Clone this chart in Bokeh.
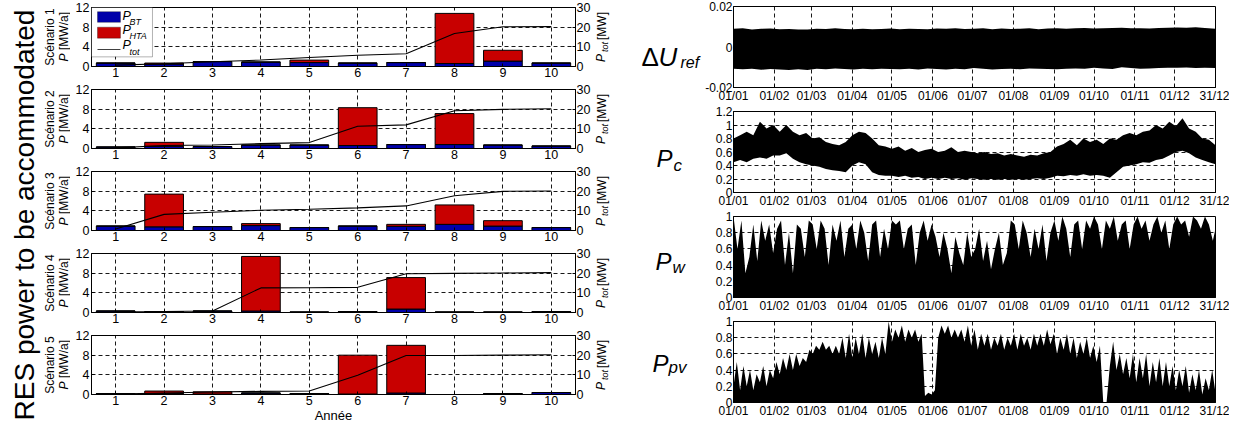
import math
from bokeh.plotting import figure
from bokeh.models import ColumnDataSource, Range1d, LinearAxis, FixedTicker, Label, BoxAnnotation
from bokeh.layouts import row, column
from bokeh.embed import file_html
from bokeh.resources import INLINE

FONT = "Liberation Sans"
BLUE = "#0000AA"
RED = "#C80000"

# ---------------- left: yearly bars ----------------
years = [1, 2, 3, 4, 5, 6, 7, 8, 9, 10]
year_ticks = [1, 2, 3, 4, 5, 6, 7, 8, 9, 10]

s1_bt = [0.7, 0.5, 1.0, 0.9, 0.8, 0.7, 0.8, 0.6, 1.1, 0.7]
s1_hta = [0.0, 0.2, 0.0, 0.0, 0.5, 0.0, 0.0, 10.2, 2.2, 0.0]
s1_tot = [0.7, 1.4, 2.4, 3.3, 4.6, 5.7, 6.5, 16.8, 20.2, 20.3]

s2_bt = [0.3, 0.45, 0.4, 0.7, 0.7, 0.6, 0.8, 0.8, 0.7, 0.5]
s2_hta = [0.0, 0.8, 0.0, 0.0, 0.0, 7.7, 0.0, 6.3, 0.0, 0.0]
s2_tot = [0.3, 1.5, 1.8, 2.5, 3.0, 11.3, 12.0, 19.2, 19.9, 20.2]

s3_bt = [0.9, 0.75, 0.8, 1.0, 0.6, 0.9, 0.85, 1.25, 0.9, 0.6]
s3_hta = [0.0, 6.65, 0.0, 0.4, 0.0, 0.0, 0.4, 3.95, 1.1, 0.0]
s3_tot = [0.8, 8.2, 9.3, 10.3, 10.8, 11.5, 12.5, 17.7, 19.9, 20.1]

s4_bt = [0.3, 0.2, 0.3, 0.3, 0.1, 0.2, 0.7, 0.1, 0.1, 0.2]
s4_hta = [0.0, 0.0, 0.0, 11.1, 0.0, 0.0, 6.4, 0.0, 0.0, 0.0]
s4_tot = [0.3, 0.5, 0.8, 12.5, 12.6, 12.8, 19.7, 19.9, 20.1, 20.3]

s5_bt = [0.2, 0.2, 0.1, 0.3, 0.2, 0.1, 0.3, 0.0, 0.2, 0.4]
s5_hta = [0.0, 0.5, 0.45, 0.0, 0.0, 7.9, 9.7, 0.0, 0.0, 0.0]
s5_tot = [0.2, 0.8, 1.3, 1.6, 1.8, 9.8, 19.8, 19.8, 20.0, 20.2]

scen_names = ["Scénario 1", "Scénario 2", "Scénario 3", "Scénario 4", "Scénario 5"]
scen_bt = [s1_bt, s2_bt, s3_bt, s4_bt, s5_bt]
scen_hta = [s1_hta, s2_hta, s3_hta, s4_hta, s5_hta]
scen_tot = [s1_tot, s2_tot, s3_tot, s4_tot, s5_tot]

p_ticks = [0, 4, 8, 12]
tot_ticks = [0, 10, 20, 30]

# ---------------- right: yearly time series ----------------
month_days = [0, 31, 59, 90, 120, 151, 181, 212, 243, 273, 304, 334, 365]
month_labels = ["01/01", "01/02", "01/03", "01/04", "01/05", "01/06", "01/07",
                "01/08", "01/09", "01/10", "01/11", "01/12", "31/12"]

du_days = [0, 7, 14, 21, 28, 35, 42, 49, 56, 63, 70, 77, 84, 91, 98, 105, 112, 119, 126,
           133, 140, 147, 154, 161, 168, 175, 182, 189, 196, 203, 210, 217, 224, 231, 238,
           245, 252, 259, 266, 273, 280, 287, 294, 301, 308, 315, 322, 329, 336, 343, 350,
           357, 365]
du_hi = [0.0090, 0.0092, 0.0087, 0.0090, 0.0091, 0.0088, 0.0089, 0.0086, 0.0087, 0.0090,
         0.0089, 0.0093, 0.0089, 0.0088, 0.0090, 0.0088, 0.0089, 0.0091, 0.0088, 0.0090,
         0.0089, 0.0088, 0.0091, 0.0090, 0.0092, 0.0089, 0.0090, 0.0092, 0.0088, 0.0091,
         0.0089, 0.0090, 0.0093, 0.0088, 0.0091, 0.0092, 0.0090, 0.0093, 0.0094, 0.0091,
         0.0092, 0.0094, 0.0095, 0.0093, 0.0092, 0.0091, 0.0094, 0.0095, 0.0096, 0.0095,
         0.0097, 0.0094, 0.0090]
du_lo = [-0.0108, -0.0110, -0.0107, -0.0112, -0.0109, -0.0111, -0.0113, -0.0110, -0.0114,
         -0.0108, -0.0110, -0.0106, -0.0109, -0.0111, -0.0108, -0.0110, -0.0107, -0.0109,
         -0.0110, -0.0108, -0.0111, -0.0106, -0.0109, -0.0111, -0.0108, -0.0110, -0.0104,
         -0.0108, -0.0111, -0.0109, -0.0107, -0.0110, -0.0106, -0.0108, -0.0109, -0.0110,
         -0.0107, -0.0106, -0.0108, -0.0102, -0.0106, -0.0109, -0.0100, -0.0104, -0.0108,
         -0.0106, -0.0104, -0.0102, -0.0103, -0.0101, -0.0104, -0.0102, -0.0104]

day5 = [0, 5, 10, 15, 20, 25, 30, 35, 40, 45, 50, 55, 60, 65, 70, 75, 80, 85, 90, 95,
        100, 105, 110, 115, 120, 125, 130, 135, 140, 145, 150, 155, 160, 165, 170, 175,
        180, 185, 190, 195, 200, 205, 210, 215, 220, 225, 230, 235, 240, 245, 250, 255,
        260, 265, 270, 275, 280, 285, 290, 295, 300, 305, 310, 315, 320, 325, 330, 335,
        340, 345, 350, 355, 360, 365]

pc_hi = [0.80, 0.85, 0.90, 0.85, 1.05, 0.95, 1.00, 0.90, 1.00, 0.90, 0.85, 0.88, 0.80, 0.82,
         0.75, 0.72, 0.70, 0.75, 0.85, 0.90, 0.88, 0.80, 0.70, 0.68, 0.65, 0.68, 0.62, 0.66,
         0.60, 0.63, 0.65, 0.60, 0.62, 0.67, 0.60, 0.62, 0.60, 0.58, 0.60, 0.57, 0.58, 0.55,
         0.57, 0.55, 0.53, 0.56, 0.55, 0.58, 0.60, 0.68, 0.72, 0.78, 0.70, 0.80, 0.75, 0.78,
         0.72, 0.80, 0.78, 0.85, 0.88, 0.85, 0.90, 0.92, 1.00, 0.95, 1.05, 0.98, 1.10, 0.95,
         0.90, 0.80, 0.78, 0.70]
pc_lo = [0.45, 0.48, 0.45, 0.50, 0.52, 0.50, 0.55, 0.55, 0.58, 0.50, 0.45, 0.42, 0.40, 0.38,
         0.35, 0.33, 0.32, 0.30, 0.40, 0.45, 0.42, 0.30, 0.26, 0.25, 0.25, 0.23, 0.25, 0.22,
         0.23, 0.20, 0.22, 0.20, 0.22, 0.20, 0.21, 0.19, 0.21, 0.20, 0.19, 0.20, 0.19, 0.20,
         0.19, 0.20, 0.19, 0.20, 0.21, 0.20, 0.22, 0.25, 0.24, 0.26, 0.25, 0.27, 0.25, 0.26,
         0.25, 0.22, 0.30, 0.38, 0.40, 0.42, 0.45, 0.44, 0.48, 0.50, 0.55, 0.60, 0.62, 0.58,
         0.52, 0.48, 0.45, 0.42]

pw_days = list(range(0, 364, 3)) + [365]
pw_hi = [1.00, 0.60, 0.95, 0.30, 0.50, 0.90, 0.45, 0.95, 0.70, 0.90, 0.55,
         0.85, 0.95, 0.40, 0.80, 0.30, 0.90, 0.85, 0.50, 0.95,
         0.90, 0.60, 0.95, 0.85, 0.40, 0.90, 0.70, 0.95, 0.50, 0.85, 0.90,
         0.60, 0.95, 0.80, 0.45, 0.90, 0.95, 0.50, 0.85, 0.60, 0.95,
         0.90, 0.95, 0.60, 0.85, 0.90, 0.40, 0.80, 0.95, 0.70, 0.90,
         0.75, 0.50, 0.80, 0.60, 0.30, 0.75, 0.55, 0.40, 0.80, 0.50,
         0.60, 0.85, 0.45, 0.70, 0.35, 0.60, 0.80, 0.40, 0.55, 0.95,
         0.90, 0.60, 0.95, 0.80, 0.50, 0.85, 0.60, 0.90, 0.45, 0.80,
         0.95, 0.70, 1.00, 0.85, 0.50, 0.90, 0.95, 0.60, 0.95, 0.85,
         1.00, 0.90, 0.60, 0.95, 0.85, 1.00, 0.70, 0.90, 0.95, 0.60, 0.90,
         1.00, 0.85, 0.95, 0.70, 0.90, 1.00, 0.80, 0.95, 0.60, 0.90,
         1.00, 0.90, 0.95, 0.75, 1.00, 0.95, 0.85, 1.00, 0.90, 0.70,
         0.85]

# P_pv: level of the dense (night-to-day) fill and the tip of the daily peaks, every 5 days
ppv_dense = [0.20, 0.15, 0.20, 0.15, 0.25, 0.20, 0.30,
             0.35, 0.40, 0.40, 0.45, 0.50,
             0.60, 0.65, 0.65, 0.60, 0.60, 0.55,
             0.55, 0.60, 0.55, 0.60, 0.55, 0.60,
             0.75, 0.80, 0.75, 0.80, 0.75, 0.08, 0.10,
             0.80, 0.85, 0.80, 0.80, 0.75, 0.70,
             0.65, 0.70, 0.65, 0.70, 0.65, 0.70,
             0.65, 0.70, 0.65, 0.70, 0.70, 0.72,
             0.60, 0.65, 0.60, 0.55, 0.60, 0.55,
             0.50, 0.00, 0.45, 0.40, 0.35, 0.30,
             0.25, 0.30, 0.20, 0.25, 0.20, 0.20,
             0.15, 0.20, 0.12, 0.15, 0.10, 0.15, 0.12]
ppv_peak = [0.50, 0.45, 0.40, 0.35, 0.45, 0.40, 0.50,
            0.55, 0.60, 0.60, 0.55, 0.65,
            0.70, 0.75, 0.70, 0.70, 0.80, 0.85,
            0.80, 0.85, 0.80, 0.75, 0.80, 1.00,
            0.90, 0.95, 0.90, 0.90, 0.85, 0.12, 0.15,
            0.95, 0.95, 0.90, 0.90, 0.95, 0.90,
            0.85, 0.85, 0.80, 0.85, 0.80, 0.85,
            0.85, 0.80, 0.85, 0.85, 0.90, 0.85,
            0.80, 0.85, 0.80, 0.75, 0.80, 0.70,
            0.70, 0.00, 0.75, 0.60, 0.55, 0.60,
            0.55, 0.60, 0.50, 0.55, 0.50, 0.45,
            0.40, 0.45, 0.35, 0.40, 0.30, 0.40, 0.35]


def base_style(p):
    p.background_fill_color = "white"
    p.border_fill_color = "white"
    p.outline_line_color = "black"
    p.outline_line_width = 1
    p.outline_line_alpha = 1
    for ax in p.axis:
        ax.axis_line_color = "black"
        ax.major_tick_line_color = "black"
        ax.major_tick_in = 3
        ax.major_tick_out = 0
        ax.minor_tick_line_color = None
        ax.major_label_text_font = FONT
        ax.major_label_text_color = "black"
    for g in p.grid:
        g.grid_line_color = "black"
        g.grid_line_dash = "4 3"
        g.grid_line_width = 1
        g.grid_line_alpha = 0.9


def lab(p, text, x, y, size, angle=0.0, align="center", base="middle", style="normal"):
    p.add_layout(Label(x=x, y=y, text=text, angle=angle,
                       text_align=align, text_baseline=base, text_font=FONT,
                       text_font_size=size, text_font_style=style, text_color="black"))


def label_fig(x0, x1):
    # a blank canvas whose data coordinates are the page's pixel coordinates
    f = figure(width=x1 - x0, height=425, x_range=Range1d(x0, x1), y_range=Range1d(433, 8),
               output_backend="svg", toolbar_location=None,
               min_border_left=0, min_border_right=0, min_border_top=0, min_border_bottom=0)
    f.axis.visible = False
    f.grid.visible = False
    f.outline_line_color = None
    f.background_fill_color = "white"
    f.border_fill_color = "white"
    return f


ROT = math.pi / 2
BAR_TOP, BAR_FRAME, BAR_STEP = 7, 59, 82

# ---- left label strip (big title + scenario labels) ----
labL = label_fig(8, 78)
lab(labL, "RES power to be accommodated", 31.5, 222.5, "28px", angle=ROT,
    align="center", base="alphabetic")
for k in range(5):
    c = 8 + BAR_TOP + BAR_FRAME / 2 + BAR_STEP * k
    lab(labL, scen_names[k], 57, c, "12px", angle=ROT)
    lab(labL, "P", 71, c + 24.5, "12px", angle=ROT, align="left", style="italic")
    lab(labL, "[MW/a]", 71, c + 13.0, "12px", angle=ROT, align="left")

# ---- bar panels ----
bar_figs = []
for i in range(5):
    last = (i == 4)
    p = figure(width=523, height=97 if last else BAR_STEP, x_range=Range1d(0.5, 10.5),
               y_range=Range1d(0, 12), output_backend="svg", toolbar_location=None,
               min_border_left=21, min_border_right=17, min_border_top=BAR_TOP,
               min_border_bottom=31 if last else 16)
    p.extra_y_ranges = {"tot": Range1d(0, 30)}
    src = ColumnDataSource(dict(year=years, bt=scen_bt[i], hta=scen_hta[i], tot=scen_tot[i]))
    p.vbar_stack(["bt", "hta"], x="year", width=0.8, fill_color=[BLUE, RED],
                 line_color="black", line_width=1, source=src)
    p.line("year", "tot", source=src, y_range_name="tot", line_color="black", line_width=1.1)
    rax = LinearAxis(y_range_name="tot", ticker=FixedTicker(ticks=tot_ticks))
    p.add_layout(rax, "right")
    p.xaxis.ticker = FixedTicker(ticks=year_ticks)
    p.left[0].ticker = FixedTicker(ticks=p_ticks)
    p.xgrid.ticker = FixedTicker(ticks=year_ticks)
    p.ygrid.ticker = FixedTicker(ticks=[4, 8])
    base_style(p)
    p.axis.major_label_text_font_size = "12.5px"
    p.xaxis.major_label_standoff = 1
    p.left[0].major_label_standoff = 2
    rax.major_label_standoff = 1
    if i == 0:
        # legend
        p.add_layout(BoxAnnotation(left=0.5, right=1.76, bottom=1.96, top=12,
                                   fill_color="white", fill_alpha=1,
                                   line_color="black", line_width=1))
        p.add_layout(BoxAnnotation(left=0.624, right=1.098, bottom=8.99, top=11.15,
                                   fill_color=BLUE, fill_alpha=1,
                                   line_color="black", line_width=1))
        p.add_layout(BoxAnnotation(left=0.624, right=1.098, bottom=5.76, top=8.0,
                                   fill_color=RED, fill_alpha=1,
                                   line_color="black", line_width=1))
        p.add_layout(BoxAnnotation(left=0.624, right=1.098, bottom=3.39, top=3.57,
                                   fill_color="black", fill_alpha=1, line_color=None))
        for ty, sy, sub in [(10.33, 9.15, "BT"), (7.37, 6.19, "HTA"), (4.32, 2.94, "tot")]:
            lab(p, "P", 1.139, ty, "12.5px", align="left", style="italic")
            lab(p, sub, 1.283, sy, "9px", align="left", style="italic")
    if last:
        p.xaxis.axis_label = "Année"
        p.xaxis.axis_label_standoff = 0
        p.xaxis.axis_label_text_font = FONT
        p.xaxis.axis_label_text_font_size = "13px"
        p.xaxis.axis_label_text_font_style = "normal"
        p.xaxis.axis_label_text_color = "black"
    bar_figs.append(p)

left_col = column(*bar_figs, spacing=0)

# ---- middle label strip (P_tot axis titles + time-series names) ----
labM = label_fig(601, 710)
for k in range(5):
    c = 8 + BAR_TOP + BAR_FRAME / 2 + BAR_STEP * k
    lab(labM, "P", 608, c + 21, "12px", angle=ROT, style="italic")
    lab(labM, "tot", 612.5, c + 10, "9px", angle=ROT, style="italic")
    lab(labM, "[MW]", 609, c - 11, "12px", angle=ROT)
lab(labM, "\u0394", 649, 64, "26px", align="left", base="alphabetic")
lab(labM, "U", 666, 64, "26px", align="left", base="alphabetic", style="italic")
lab(labM, "ref", 688, 70, "16px", align="left", base="alphabetic", style="italic")
lab(labM, "P", 664, 166, "24px", align="left", base="alphabetic", style="italic")
lab(labM, "c", 681, 173, "17px", align="left", base="alphabetic", style="italic")
lab(labM, "P", 663, 269, "24px", align="left", base="alphabetic", style="italic")
lab(labM, "w", 680, 275, "17px", align="left", base="alphabetic", style="italic")
lab(labM, "P", 660, 371, "24px", align="left", base="alphabetic", style="italic")
lab(labM, "pv", 676, 375, "17px", align="left", base="alphabetic", style="italic")


# ---- time series panels ----
def ts_fig(lo, hi, yticks, ylabels, grid_y):
    p = figure(width=527, height=105, x_range=Range1d(0, 365), y_range=Range1d(lo, hi),
               output_backend="svg", toolbar_location=None,
               min_border_left=29, min_border_right=14, min_border_top=6,
               min_border_bottom=18)
    p.xaxis.ticker = FixedTicker(ticks=month_days)
    p.xaxis.major_label_overrides = {d: s for d, s in zip(month_days, month_labels)}
    p.yaxis.ticker = FixedTicker(ticks=yticks)
    p.yaxis.major_label_overrides = {t: s for t, s in zip(yticks, ylabels)}
    p.xgrid.ticker = FixedTicker(ticks=month_days[1:-1])
    p.ygrid.ticker = FixedTicker(ticks=grid_y)
    base_style(p)
    p.axis.major_label_text_font_size = "12px"
    p.xaxis.major_label_standoff = 1
    p.yaxis.major_label_standoff = 1
    return p


p1 = ts_fig(-0.02, 0.02, [-0.02, 0, 0.02], ["-0.02", "0", "0.02"], [0])
p1.varea(x="d", y1="lo", y2="hi", source=ColumnDataSource(dict(d=du_days, lo=du_lo, hi=du_hi)),
         fill_color="black")

p2 = ts_fig(0, 1.2, [0, 0.2, 0.4, 0.6, 0.8, 1, 1.2],
            ["0", "0.2", "0.4", "0.6", "0.8", "1", "1.2"], [0.2, 0.4, 0.6, 0.8, 1])
p2.varea(x="d", y1="lo", y2="hi", source=ColumnDataSource(dict(d=day5, lo=pc_lo, hi=pc_hi)),
         fill_color="black")

p3 = ts_fig(0, 1, [0, 0.2, 0.4, 0.6, 0.8, 1], ["0", "0.2", "0.4", "0.6", "0.8", "1"],
            [0.2, 0.4, 0.6, 0.8])
p3.varea(x="d", y1=0, y2="hi", source=ColumnDataSource(dict(d=pw_days, hi=pw_hi)),
         fill_color="black")

p4 = ts_fig(0, 1, [0, 0.2, 0.4, 0.6, 0.8, 1], ["0", "0.2", "0.4", "0.6", "0.8", "1"],
            [0.2, 0.4, 0.6, 0.8])
# alternate dense level and peak tip to form the jagged profile
zz_x, zz_y = [], []
for d, a, b in zip(day5, ppv_dense, ppv_peak):
    zz_x.append(d)
    zz_y.append(a)
    if d < 365:
        zz_x.append(d + 2.5)
        zz_y.append(b)
p4.varea(x="d", y1=0, y2="v", source=ColumnDataSource(dict(d=zz_x, v=zz_y)),
         fill_color="black")

right_col = column(p1, p2, p3, p4, spacing=0)

layout = row(labL, left_col, labM, right_col, spacing=0)

with open("out.html", "w") as f:
    f.write(file_html(layout, INLINE))
